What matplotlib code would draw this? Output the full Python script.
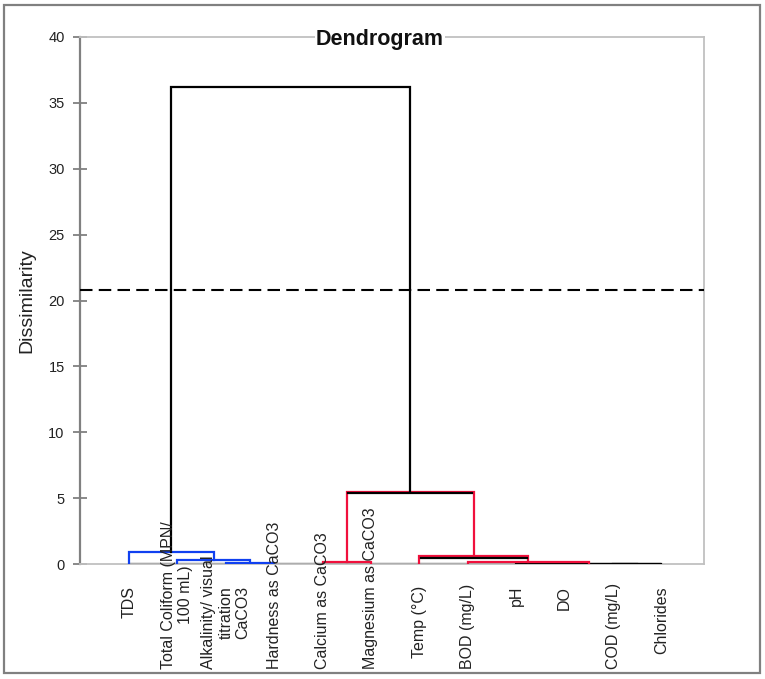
import matplotlib
matplotlib.use("Agg")
import matplotlib.pyplot as plt
import matplotlib.transforms as mtransforms
from matplotlib.patches import Rectangle

# ---------------- data ----------------
leaf_labels = [
    "TDS",
    "Total Coliform (MPN/\n100 mL)",
    "Alkalinity/ visual\ntitration\nCaCO3",
    "Hardness as CaCO3",
    "Calcium as CaCO3",
    "Magnesium as CaCO3",
    "Temp (°C)",
    "BOD (mg/L)",
    "pH",
    "DO",
    "COD (mg/L)",
    "Chlorides",
]
# linkage (scipy style): leaves 0..11, merged clusters numbered 12, 13, ...
merge_a = [2, 1, 0, 4, 8, 10, 16, 7, 6, 15, 14]
merge_b = [3, 12, 13, 5, 9, 11, 17, 18, 19, 20, 21]
merge_height = [0.05, 0.32, 0.9, 0.15, 0.0, 0.0, 0.0, 0.15, 0.6, 5.5, 36.2]
truncation_level = 20.8
y_ticks = [0, 5, 10, 15, 20, 25, 30, 35, 40]

# ---------------- style ----------------
BLUE = "#1040F0"
RED = "#F0103C"
link_colors = [BLUE, BLUE, BLUE, RED, "black", "black", "black", RED, RED, RED, "black"]
black_top = [False, False, False, False, False, False, False, False, True, True, False]
FONT = "Liberation Sans"

W, H = 765, 679
fig = plt.figure(figsize=(W / 100, H / 100), dpi=100)
fig.patch.set_facecolor("white")
ax = fig.add_axes([80 / W, 1 - 564 / H, (704 - 80) / W, (564 - 37) / H])

# outer border
fig.patches.append(Rectangle((4 / W, 1 - 673 / H), (760 - 4) / W, (673 - 5) / H,
                             transform=fig.transFigure, fill=False,
                             edgecolor="#808080", linewidth=1.6, zorder=0))

n = len(leaf_labels)
pos = {i: float(i) for i in range(n)}
hgt = {i: 0.0 for i in range(n)}

# baseline
ax.plot([0, n - 1], [0, 0], color="black", lw=1.6, zorder=2, solid_capstyle="butt")

for k, (a, b, h) in enumerate(zip(merge_a, merge_b, merge_height)):
    xa, xb = pos[a], pos[b]
    col = link_colors[k]
    ax.plot([xa, xa, xb, xb], [hgt[a], h, h, hgt[b]], color=col, lw=1.6,
            zorder=3 + k * 0.01, solid_joinstyle="miter")
    if black_top[k]:
        off = mtransforms.offset_copy(ax.transData, fig=fig, x=0, y=-1.6, units="dots")
        ax.plot([xa + 0.03, xb - 0.03], [h, h], color="black", lw=1.6,
                transform=off, zorder=3.5)
    cid = n + k
    pos[cid] = (xa + xb) / 2
    hgt[cid] = h

# truncation line
ax.axhline(truncation_level, color="black", lw=1.5, dashes=(6, 3), zorder=4)

ax.set_xlim(-1.012, 11.88)
ax.set_ylim(0, 40)
ax.set_yticks(y_ticks)
ax.set_yticklabels([str(t) for t in y_ticks], fontsize=10.5, family=FONT, color="#222222")
ax.set_xticks([])
ax.tick_params(axis="y", direction="inout", length=10, width=1.3, color="#808080", pad=6)
for s in ["top", "right", "bottom"]:
    ax.spines[s].set_color("#C0C0C0")
    ax.spines[s].set_linewidth(1.3)
ax.spines["left"].set_color("#808080")
ax.spines["left"].set_linewidth(1.6)

ax.set_ylabel("Dissimilarity", fontsize=14, family=FONT, color="#222222")
ax.yaxis.set_label_coords(-0.072, 0.5)

fig.text(380 / W, 1 - 39 / H, "Dendrogram", ha="center", va="center",
         fontsize=15.5, fontweight="bold", family=FONT, color="#111111",
         bbox=dict(facecolor="white", edgecolor="none", pad=1), zorder=10)

# leaf labels (rotated), top aligned, clamped at the bottom
trans = mtransforms.blended_transform_factory(ax.transData, fig.transFigure)
texts = []
for i, lab in enumerate(leaf_labels):
    t = ax.text(pos[i], 1 - 586 / H, lab, rotation=90, ha="center", va="top",
                multialignment="center", fontsize=11.5, family=FONT,
                color="#222222", transform=trans, linespacing=1.15,
                clip_on=False, zorder=5)
    texts.append(t)

fig.canvas.draw()
r = fig.canvas.get_renderer()
min_y0 = H - 669
for t in texts:
    bb = t.get_window_extent(r)
    if bb.y0 < min_y0:
        x, y = t.get_position()
        t.set_position((x, y + (min_y0 - bb.y0) / H))

fig.savefig("out.png", dpi=100, facecolor="white")
